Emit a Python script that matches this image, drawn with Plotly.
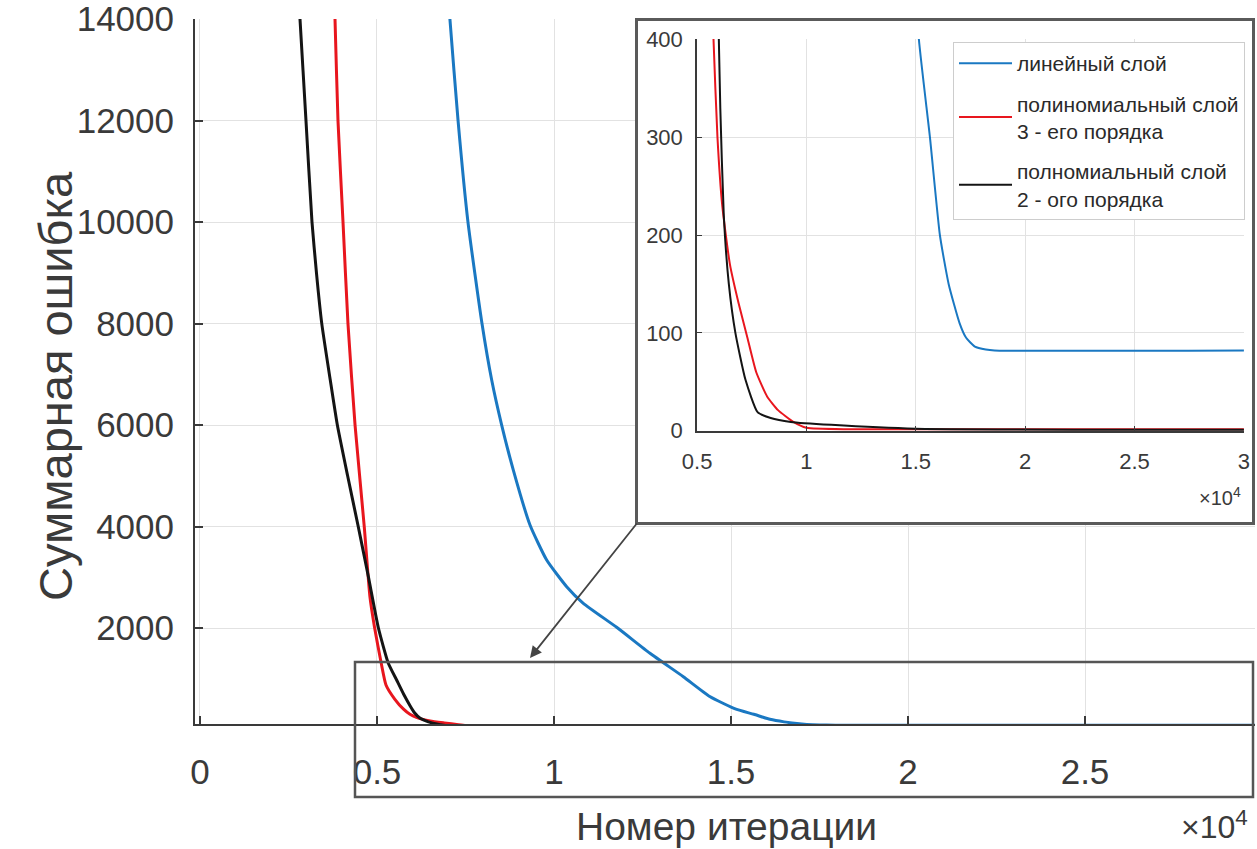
import plotly.graph_objects as go

W, H = 1257, 849

# ---------------- data (iteration number, summed error) ----------------
blue_x = [6950, 7060, 7290, 7570, 7966, 8240, 8522, 8851, 9322, 9793, 10358, 10828, 11770,
          12712, 13653, 14400, 15140, 15645, 16100, 16500, 17000, 17300, 17700, 18200, 18600, 30000]
blue_y = [15000, 14000, 12000, 10000, 8000, 6887, 6000, 5113, 4030, 3340, 2814, 2487, 2014,
          1501, 1040, 650, 400, 300, 200, 150, 110, 95, 86, 83, 82, 82]

red_x = [3772, 3814, 3898, 4040, 4180, 4380, 4640, 4800, 4930, 5120, 5254, 5500,
         5750, 5930, 6150, 6500, 6900, 7300, 7700, 8200, 8700, 9400, 10000, 12000, 30000]
red_y = [15000, 14000, 12000, 10000, 8000, 6000, 4000, 2617, 2014, 1305, 877, 600,
         400, 300, 230, 170, 130, 95, 60, 35, 21, 9, 3, 1.5, 1.5]

black_x = [2740, 2825, 2994, 3164, 3290, 3440, 3680, 3880, 4170, 4470, 4760, 5040, 5320, 5555,
           5750, 5950, 6060, 6220, 6450, 6750, 7212, 7765, 8364, 9286, 11130, 15000, 30000]
black_y = [15000, 14000, 12000, 10000, 9000, 8000, 6887, 6000, 5000, 4000, 3000, 2000, 1305, 975,
           700, 450, 330, 220, 150, 100, 52, 19, 13, 9, 6, 2, 1]

names = ["линейный слой",
         "полиномиальный слой<br>3 - его порядка",
         "полномиальный слой<br>2 - ого порядка"]
colors = ["#1a78c2", "#e8161e", "#141414"]

main_xticks = [0, 5000, 10000, 15000, 20000, 25000]
main_xtext = ["0", "0.5", "1", "1.5", "2", "2.5"]
main_yticks = [2000, 4000, 6000, 8000, 10000, 12000, 14000]
main_ytext = ["2000", "4000", "6000", "8000", "10000", "12000", "14000"]

inset_xticks = [5000, 10000, 15000, 20000, 25000, 30000]
inset_xtext = ["0.5", "1", "1.5", "2", "2.5", "3"]
inset_yticks = [0, 100, 200, 300, 400]
inset_ytext = ["0", "100", "200", "300", "400"]

FONT = "Liberation Sans, Arial, sans-serif"
TXT = "#3a3a3a"

series = [(blue_x, blue_y), (red_x, red_y), (black_x, black_y)]

fig = go.Figure()

# main plot
for (sx, sy), c in zip(series, colors):
    fig.add_trace(go.Scatter(x=sx, y=sy, mode="lines",
                             line=dict(color=c, width=3, shape="spline", smoothing=0.5),
                             showlegend=False, hoverinfo="skip", xaxis="x", yaxis="y"))

# frame subplot (white panel behind the inset)
fig.add_trace(go.Scatter(x=[None], y=[None], mode="lines", showlegend=False,
                         hoverinfo="skip", xaxis="x2", yaxis="y2"))

# inset plot
for i, ((sx, sy), c, n) in enumerate(zip(series, colors, names)):
    fig.add_trace(go.Scatter(x=sx, y=sy, mode="lines", name=n, legendgroup="g%d" % i,
                             line=dict(color=c, width=2, shape="spline", smoothing=0.5),
                             hoverinfo="skip", xaxis="x3", yaxis="y3"))

axis_common = dict(showline=True, linecolor="#3a3a3a", ticks="inside", tickcolor="#3a3a3a",
                   showgrid=True, gridcolor="#e2e2e2", gridwidth=1, zeroline=False,
                   tickmode="array", automargin=False, ticklabeloverflow="allow")

fig.update_layout(
    width=W, height=H,
    margin=dict(l=0, r=0, t=0, b=0, pad=0, autoexpand=False),
    paper_bgcolor="white", plot_bgcolor="white",
    font=dict(family=FONT, color=TXT),
    xaxis=dict(axis_common, domain=[195 / W, 1255 / W], range=[-141, 29802], anchor="y",
               linewidth=2, ticklen=8, tickwidth=1.5,
               tickvals=main_xticks, ticktext=main_xtext,
               tickfont=dict(size=35, color=TXT), ticklabelstandoff=16),
    yaxis=dict(axis_common, domain=[1 - 724 / H, 1 - 19 / H], range=[108, 14003], anchor="x",
               linewidth=2, ticklen=8, tickwidth=1.5,
               tickvals=main_yticks, ticktext=main_ytext,
               tickfont=dict(size=35, color=TXT), ticklabelstandoff=12),
    xaxis2=dict(domain=[638 / W, 1252 / W], range=[0, 1], anchor="y2", showline=True,
                mirror=True, linecolor="#5a5a5a", linewidth=2.5, showgrid=False,
                zeroline=False, showticklabels=False, ticks="", fixedrange=True,
                automargin=False),
    yaxis2=dict(domain=[1 - 522 / H, 1 - 21 / H], range=[0, 1], anchor="x2", showline=True,
                mirror=True, linecolor="#5a5a5a", linewidth=2.5, showgrid=False,
                zeroline=False, showticklabels=False, ticks="", fixedrange=True,
                automargin=False),
    xaxis3=dict(axis_common, domain=[697 / W, 1244 / W], range=[4995, 30005], anchor="y3",
                linewidth=1.5, ticklen=5, tickwidth=1,
                tickvals=inset_xticks, ticktext=inset_xtext,
                tickfont=dict(size=22, color=TXT), ticklabelstandoff=10),
    yaxis3=dict(axis_common, domain=[1 - 431 / H, 1 - 39 / H], range=[-0.3, 400.3], anchor="x3",
                linewidth=1.5, ticklen=5, tickwidth=1,
                tickvals=inset_yticks, ticktext=inset_ytext,
                tickfont=dict(size=22, color=TXT), ticklabelstandoff=8),
    legend=dict(x=953 / W, y=1 - 42 / H, xanchor="left", yanchor="top",
                bgcolor="white", bordercolor="#cdcdcd", borderwidth=1,
                font=dict(family=FONT, size=21, color="#2a2a2a"),
                itemwidth=53, tracegroupgap=10),
    showlegend=True,
)

# zoom rectangle on the main plot and arrow to the inset
fig.add_shape(type="rect", xref="paper", yref="paper",
              x0=355 / W, x1=1253 / W, y0=1 - 797 / H, y1=1 - 662 / H,
              line=dict(color="#555555", width=2.5), fillcolor="rgba(0,0,0,0)", layer="above")
fig.add_annotation(x=530 / W, y=1 - 658 / H, xref="paper", yref="paper", text="",
                   showarrow=True, ax=638 - 530, ay=522 - 658, arrowhead=2, arrowsize=1.3,
                   arrowwidth=1.8, arrowcolor="#444444", standoff=0)

# axis titles and exponent labels
fig.add_annotation(x=726 / W, y=1 - 826 / H, xref="paper", yref="paper",
                   text="Номер итерации", showarrow=False, xanchor="center", yanchor="middle",
                   font=dict(size=39, color=TXT, family=FONT))
fig.add_annotation(x=55 / W, y=1 - 386 / H, xref="paper", yref="paper",
                   text="Суммарная ошибка", showarrow=False, textangle=-90,
                   xanchor="center", yanchor="middle",
                   font=dict(size=47, color=TXT, family=FONT))
fig.add_annotation(x=1250 / W, y=1 - 825 / H, xref="paper", yref="paper",
                   text="×10<sup>4</sup>", showarrow=False, xanchor="right", yanchor="middle",
                   font=dict(size=32, color=TXT, family=FONT))
fig.add_annotation(x=1243 / W, y=1 - 496 / H, xref="paper", yref="paper",
                   text="×10<sup>4</sup>", showarrow=False, xanchor="right", yanchor="middle",
                   font=dict(size=20, color=TXT, family=FONT))

fig.write_html("out.html", config={"displayModeBar": False})
